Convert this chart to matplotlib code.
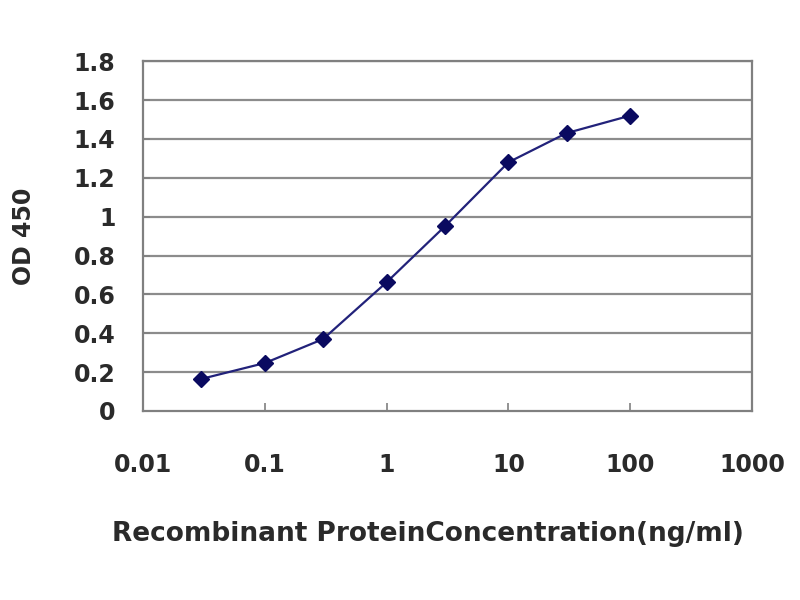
import matplotlib
matplotlib.use('Agg')
import matplotlib.pyplot as plt
from matplotlib.ticker import FixedLocator, NullLocator

# ================= DATA =================
CONC = [0.03, 0.1, 0.3, 1, 3, 10, 30, 100]
OD450 = [0.165, 0.247, 0.37, 0.663, 0.95, 1.28, 1.43, 1.52]
X_TICKS = [0.01, 0.1, 1, 10, 100, 1000]
X_TICK_LABELS = ['0.01', '0.1', '1', '10', '100', '1000']
Y_TICKS = [0, 0.2, 0.4, 0.6, 0.8, 1.0, 1.2, 1.4, 1.6, 1.8]
Y_TICK_LABELS = ['0', '0.2', '0.4', '0.6', '0.8', '1', '1.2', '1.4', '1.6', '1.8']

plt.rcParams['font.family'] = ['DejaVu Sans']
plt.rcParams['font.weight'] = 'bold'
plt.rcParams['axes.labelweight'] = 'bold'
TXT = '#2a2a2a'

fig = plt.figure(figsize=(8, 6), dpi=100)
ax = fig.add_axes([0.179, 0.315, 0.761, 0.583])

ax.set_xscale('log')
ax.set_xlim(0.01, 1000)
ax.set_ylim(0, 1.8)

# horizontal grid
for y in Y_TICKS[1:]:
    ax.axhline(y, color='#8c8c8c', linewidth=1.6, zorder=1)

ax.plot(CONC, OD450, color='#22227a', linewidth=1.6, zorder=3)
ax.plot(CONC, OD450, linestyle='none', marker='D', markersize=8.5,
        color='#0a0a60', zorder=4)

ax.xaxis.set_major_locator(FixedLocator(X_TICKS))
ax.xaxis.set_minor_locator(NullLocator())
ax.set_xticklabels(X_TICK_LABELS)
ax.set_yticks(Y_TICKS)
ax.set_yticklabels(Y_TICK_LABELS)

for s in ax.spines.values():
    s.set_color('#808080')
    s.set_linewidth(1.6)

ax.tick_params(axis='x', direction='in', length=6, width=1.2, color='#808080',
               labelsize=17, pad=30, labelcolor=TXT)
ax.tick_params(axis='y', direction='in', length=5, width=1.2, color='#808080',
               labelsize=17, pad=20, labelcolor=TXT)

ax.set_ylabel('OD 450', fontsize=17, color=TXT, labelpad=27)
ax.set_xlabel('Recombinant ProteinConcentration(ng/ml)', fontsize=19,
              color=TXT, labelpad=32, x=0.468)

fig.savefig('out.png', dpi=100)
